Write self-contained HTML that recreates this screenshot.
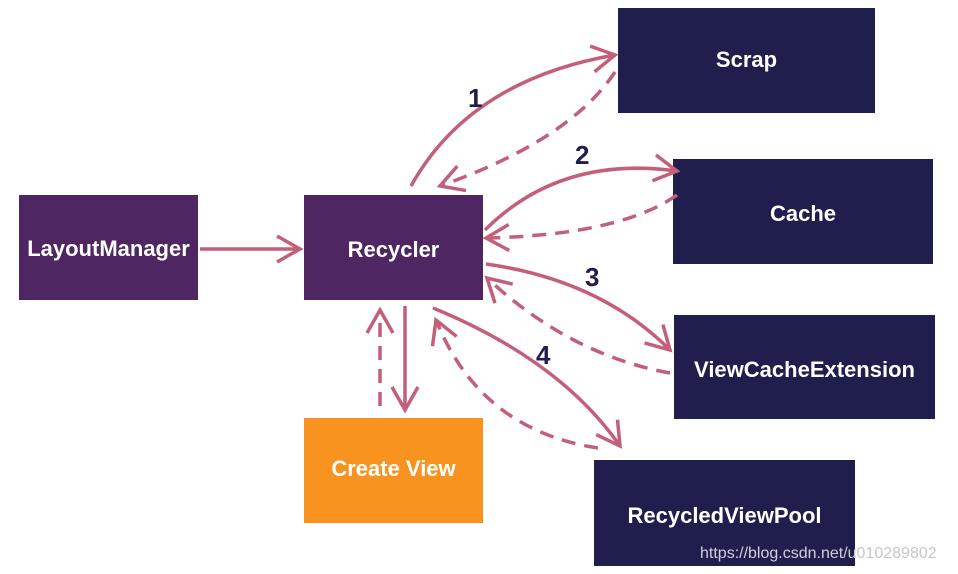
<!DOCTYPE html>
<html><head><meta charset="utf-8"><style>
html,body{margin:0;padding:0;background:#fff;}
body{width:958px;height:574px;position:relative;overflow:hidden;font-family:"Liberation Sans",sans-serif;}
.b{position:absolute;display:flex;align-items:center;justify-content:center;color:#fff;font-weight:bold;font-size:22px;box-sizing:border-box;}
.n{background:#201e4c;}
.p{background:#4e2662;}
.o{background:#f7931e;}
svg{position:absolute;left:0;top:0;}
.wm{position:absolute;left:700px;top:545px;font-size:16px;color:#cfd0dc;white-space:nowrap;}
.wm span{color:#c8c8c8;}
</style></head><body>
<div class="b p" style="left:19px;top:195px;width:179px;height:105px;padding-top:3px;">LayoutManager</div>
<div class="b p" style="left:304px;top:195px;width:179px;height:105px;padding-top:4px;">Recycler</div>
<div class="b o" style="left:304px;top:418px;width:179px;height:105px;padding-bottom:4px;">Create View</div>
<div class="b n" style="left:618px;top:8px;width:257px;height:105px;padding-bottom:2px;">Scrap</div>
<div class="b n" style="left:673px;top:159px;width:260px;height:105px;padding-top:5px;">Cache</div>
<div class="b n" style="left:674px;top:315px;width:261px;height:104px;padding-top:5px;">ViewCacheExtension</div>
<div class="b n" style="left:594px;top:460px;width:261px;height:106px;align-items:flex-start;padding-top:43px;">RecycledViewPool</div>
<svg width="958" height="574" viewBox="0 0 958 574">
<defs>
<marker id="a" markerUnits="userSpaceOnUse" markerWidth="34" markerHeight="34" refX="25" refY="15" orient="auto">
<path d="M2,2 L25,15 L2,28" fill="none" stroke="#c45f7a" stroke-width="3.5"/>
</marker>
</defs>
<g fill="none" stroke="#c45f7a" stroke-width="3.5">
<path d="M200,249 L300,249" marker-end="url(#a)"/>
<path d="M411,186 Q470,80 615,55" marker-end="url(#a)"/>
<path d="M615,72 Q570,140 440,186" stroke-dasharray="14,9" marker-end="url(#a)"/>
<path d="M485,230 Q560,155 677,171" marker-end="url(#a)"/>
<path d="M677,195 Q620,235 486,238" stroke-dasharray="14,9" marker-end="url(#a)"/>
<path d="M486,264 Q600,280 670,350" marker-end="url(#a)"/>
<path d="M670,373 Q570,355 487,278" stroke-dasharray="14,9" marker-end="url(#a)"/>
<path d="M433,308 Q560,360 620,446" marker-end="url(#a)"/>
<path d="M598,448 Q480,430 436,320" stroke-dasharray="14,9" marker-end="url(#a)"/>
<path d="M405,306 L405,410" marker-end="url(#a)"/>
<path d="M380,406 L380,310" stroke-dasharray="14,9" marker-end="url(#a)"/>
</g>
<g font-family="Liberation Sans,sans-serif" font-weight="bold" font-size="26" fill="#201e4c">
<text x="468" y="107">1</text>
<text x="575" y="164">2</text>
<text x="585" y="286">3</text>
<text x="536" y="364">4</text>
</g>
</svg>
<div class="wm">https://blog.csdn.net<span>/u010289802</span></div>
</body></html>
